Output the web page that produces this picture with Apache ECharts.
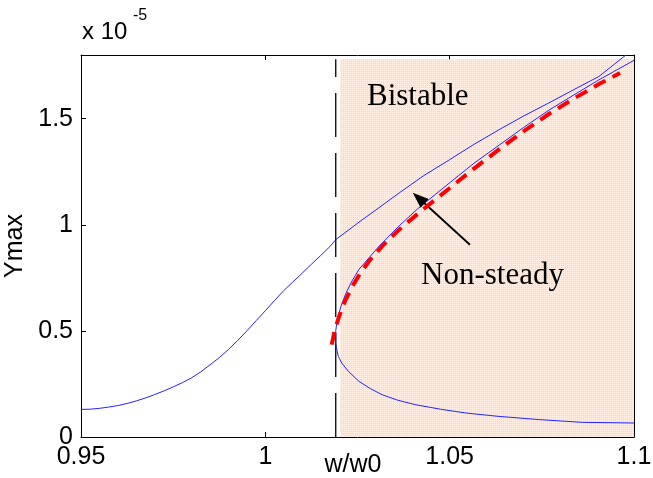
<!DOCTYPE html>
<html>
<head>
<meta charset="utf-8">
<script src="https://cdn.jsdelivr.net/npm/echarts@6/dist/echarts.min.js"></script>
<style>
  html, body { margin: 0; padding: 0; background: #fff; }
  #chart { width: 653px; height: 478px; }
</style>
</head>
<body>
<div id="chart"></div>
<script>
// values of Ymax are in units of 1e-5
const xTickLabels = ['0.95', '1', '1.05', '1.1']
const yTickLabels = ['0', '0.5', '1', '1.5']

// resonance curve coming from the left, continuing on the upper stable branch
const upperX = [0.95, 0.9525, 0.955, 0.9575, 0.96, 0.9625, 0.965, 0.9675, 0.97, 0.9725, 0.975, 0.9775, 0.98, 0.9825, 0.985, 0.9875, 0.99, 0.9925, 0.995, 0.9975, 1.0, 1.0025, 1.005, 1.0075, 1.01, 1.0125, 1.015, 1.0175, 1.0191, 1.0227, 1.026, 1.03, 1.0363, 1.043, 1.05, 1.0567, 1.0634, 1.07, 1.0769, 1.0837, 1.0905, 1.0978]
const upperY = [0.13, 0.131, 0.135, 0.141, 0.148, 0.158, 0.17, 0.184, 0.2, 0.217, 0.236, 0.256, 0.279, 0.307, 0.34, 0.374, 0.412, 0.455, 0.5, 0.548, 0.595, 0.643, 0.69, 0.731, 0.772, 0.814, 0.855, 0.897, 0.93, 0.977, 1.02, 1.07, 1.15, 1.232, 1.307, 1.38, 1.448, 1.512, 1.574, 1.637, 1.699, 1.8]

// middle (unstable) branch folding into the lower branch
const foldX = [1.1, 1.0905, 1.0837, 1.0769, 1.07, 1.0634, 1.0566, 1.0498, 1.0413, 1.0363, 1.0309, 1.0254, 1.0235, 1.0218, 1.0205, 1.0195, 1.0191, 1.0191, 1.0194, 1.0198, 1.0207, 1.0225, 1.0254, 1.0285, 1.0317, 1.036, 1.0408, 1.0475, 1.0544, 1.0634, 1.0743, 1.086, 1.1]
const foldY = [1.775, 1.683, 1.612, 1.54, 1.458, 1.375, 1.29, 1.195, 1.075, 0.995, 0.9, 0.79, 0.735, 0.675, 0.615, 0.553, 0.5, 0.443, 0.41, 0.38, 0.349, 0.31, 0.262, 0.228, 0.199, 0.173, 0.152, 0.131, 0.113, 0.097, 0.082, 0.069, 0.066]

// non-steady (red dashed) curve
const nonSteadyX = [1.018, 1.0188, 1.02, 1.0216, 1.0236, 1.0257, 1.0281, 1.032, 1.0363, 1.0426, 1.0498, 1.0566, 1.0634, 1.07, 1.0769, 1.0837, 1.0905, 1.0962]
const nonSteadyY = [0.435, 0.5, 0.568, 0.64, 0.71, 0.77, 0.828, 0.905, 0.977, 1.07, 1.17, 1.265, 1.355, 1.44, 1.522, 1.595, 1.663, 1.715]

const boundaryX = 1.0191
const boundaryY = [0, 1.78]
const bistableX = [1.0203, 1.1]
const bistableY = [0, 1.78]
const arrowFrom = [1.0555, 0.906]
const arrowTo = [1.0416, 1.126]

const zip = (xs, ys) => xs.map((x, i) => [x, ys[i]])

const pick = (labels, ticks, v) => {
  for (let i = 0; i < ticks.length; i++) {
    if (Math.abs(ticks[i] - v) < 1e-6) return labels[i]
  }
  return ''
}

// light peach dotted fill like the original hatch
function makePattern () {
  const c = document.createElement('canvas')
  c.width = 4
  c.height = 4
  const ctx = c.getContext('2d')
  ctx.fillStyle = '#feebdf'
  ctx.fillRect(0, 0, 4, 4)
  ctx.fillStyle = '#f9d5bd'
  ctx.fillRect(1, 1, 1, 1)
  ctx.fillRect(3, 1, 1, 1)
  ctx.fillRect(1, 3, 1, 1)
  ctx.fillRect(3, 3, 1, 1)
  return c
}

const sans = '"Liberation Sans", Arial, sans-serif'
const serif = '"Liberation Serif", "Times New Roman", serif'

const axisCommon = {
  axisLine: { show: true, onZero: false, lineStyle: { color: '#000', width: 1 } },
  axisTick: { show: true, inside: true, length: 5, lineStyle: { color: '#000' } },
  splitLine: { show: false }
}

const chart = echarts.init(document.getElementById('chart'), null, { renderer: 'canvas' })

chart.setOption({
  animation: false,
  backgroundColor: '#fff',
  grid: { left: 81, right: 19, top: 55, bottom: 41, containLabel: false, outerBoundsMode: 'none' },
  xAxis: [{
    type: 'value',
    min: 0.95,
    max: 1.1,
    interval: 0.05,
    position: 'bottom',
    ...axisCommon,
    axisLabel: {
      color: '#000',
      fontFamily: sans,
      fontSize: 25,
      margin: 8,
      formatter: v => pick(xTickLabels, [0.95, 1, 1.05, 1.1], v)
    }
  }, {
    type: 'value',
    min: 0.95,
    max: 1.1,
    interval: 0.05,
    position: 'top',
    ...axisCommon,
    axisLabel: { show: false }
  }],
  yAxis: [{
    type: 'value',
    min: 0,
    max: 1.8,
    interval: 0.5,
    position: 'left',
    ...axisCommon,
    name: 'Ymax',
    nameLocation: 'middle',
    nameGap: 41,
    nameTextStyle: { color: '#000', fontFamily: sans, fontSize: 25 },
    axisLabel: {
      color: '#000',
      fontFamily: sans,
      fontSize: 25,
      margin: 8,
      formatter: v => pick(yTickLabels, [0, 0.5, 1, 1.5], v)
    }
  }, {
    type: 'value',
    min: 0,
    max: 1.8,
    interval: 0.5,
    position: 'right',
    ...axisCommon,
    axisLabel: { show: false }
  }],
  graphic: [
    { type: 'text', x: 82, y: 32, style: { text: 'x 10', fill: '#000', font: '24px ' + sans, verticalAlign: 'middle' } },
    { type: 'text', x: 133, y: 16, style: { text: '-5', fill: '#000', font: '16px ' + sans, verticalAlign: 'middle' } },
    { type: 'text', x: 353, y: 465, style: { text: 'w/w0', fill: '#000', font: '25px ' + sans, align: 'center', verticalAlign: 'middle' } },
    { type: 'text', x: 367, y: 97, z: 10, style: { text: 'Bistable', fill: '#000', font: '31px ' + serif, verticalAlign: 'middle' } },
    { type: 'text', x: 421, y: 276, z: 10, style: { text: 'Non-steady', fill: '#000', font: '31px ' + serif, verticalAlign: 'middle' } }
  ],
  series: [{
    type: 'line',
    data: [[boundaryX, boundaryY[0]], [boundaryX, boundaryY[1]]],
    symbol: 'none',
    z: 3,
    lineStyle: { color: '#000', width: 1.3, type: [44, 16] },
    markArea: {
      silent: true,
      z: 1,
      itemStyle: { color: { image: makePattern(), repeat: 'repeat' } },
      data: [[{ coord: [bistableX[0], bistableY[0]] }, { coord: [bistableX[1], bistableY[1]] }]]
    }
  }, {
    type: 'line',
    data: zip(upperX, upperY),
    symbol: 'none',
    z: 4,
    lineStyle: { color: '#2424ff', width: 1 }
  }, {
    type: 'line',
    data: zip(foldX, foldY),
    symbol: 'none',
    z: 4,
    lineStyle: { color: '#2424ff', width: 1 }
  }, {
    type: 'line',
    data: zip(nonSteadyX, nonSteadyY),
    symbol: 'none',
    z: 5,
    lineStyle: { color: '#ff0000', width: 4, type: [13, 8] }
  }, {
    // arrow pointing at the non-steady curve
    type: 'line',
    data: [],
    z: 6,
    markLine: {
      silent: true,
      symbol: ['none', 'path://M6 0L12 16L0 16Z'],
      symbolSize: 16,
      symbolKeepAspect: true,
      label: { show: false },
      lineStyle: { color: '#000', width: 1.8, type: 'solid' },
      itemStyle: { color: '#000' },
      data: [[{ coord: arrowFrom }, { coord: arrowTo }]]
    }
  }]
})
</script>
</body>
</html>
